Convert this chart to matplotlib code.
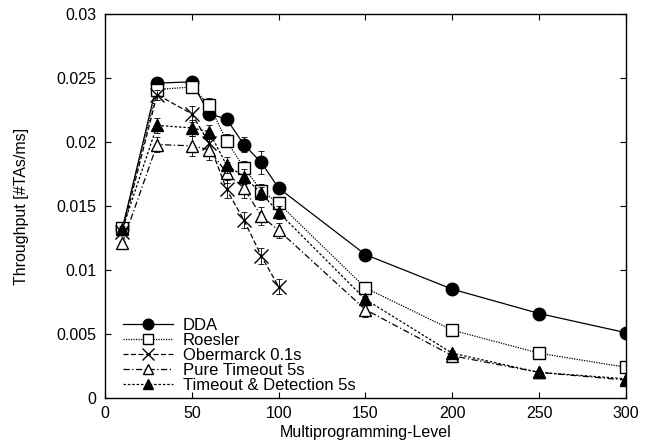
import matplotlib
matplotlib.use('Agg')
import matplotlib.pyplot as plt

plt.rcParams['font.family'] = ['Liberation Sans', 'DejaVu Sans']

mpl = [10, 30, 50, 60, 70, 80, 90, 100, 150, 200, 250, 300]
mpl_ober = [10, 30, 50, 60, 70, 80, 90, 100]

dda = [0.0132, 0.0246, 0.0247, 0.0222, 0.0218, 0.0198, 0.0184, 0.0164, 0.0112, 0.0085, 0.0066, 0.0051]
dda_err = [0.0002, 0.0003, 0.0003, 0.0004, 0.0004, 0.0006, 0.0009, 0.0003, 0.0002, 0.0001, 0.0001, 0.0001]

roesler = [0.0133, 0.0241, 0.0243, 0.0229, 0.0201, 0.0180, 0.0162, 0.0152, 0.0086, 0.0053, 0.0035, 0.0024]
roesler_err = [0.0002, 0.0004, 0.0004, 0.0005, 0.0005, 0.0005, 0.0005, 0.0004, 0.0003, 0.0002, 0.0001, 0.0001]

ober = [0.0130, 0.0237, 0.0222, 0.0199, 0.0163, 0.0139, 0.0111, 0.0087]
ober_err = [0.0002, 0.0004, 0.0006, 0.0006, 0.0007, 0.0006, 0.0006, 0.0006]

pure = [0.0121, 0.0198, 0.0197, 0.0194, 0.0176, 0.0164, 0.0142, 0.0131, 0.0069, 0.0033, 0.0020, 0.0014]
pure_err = [0.0002, 0.0006, 0.0008, 0.0008, 0.0008, 0.0008, 0.0007, 0.0006, 0.0006, 0.0002, 0.0001, 0.0001]

tdet = [0.0132, 0.0213, 0.0211, 0.0208, 0.0182, 0.0173, 0.0160, 0.0145, 0.0077, 0.0035, 0.0020, 0.0015]
tdet_err = [0.0002, 0.0006, 0.0006, 0.0005, 0.0006, 0.0006, 0.0005, 0.0005, 0.0003, 0.0002, 0.0001, 0.0001]

fig = plt.figure(figsize=(6.48, 4.43), dpi=100)
ax = fig.add_axes([0.162, 0.1016, 0.804, 0.8668])

series = [
    ('DDA', mpl, dda, dda_err, '-', 'o', 'black', 9),
    ('Roesler', mpl, roesler, roesler_err, (0, (1, 1)), 's', 'white', 9),
    ('Obermarck 0.1s', mpl_ober, ober, ober_err, (0, (4, 2)), 'x', 'black', 10),
    ('Pure Timeout 5s', mpl, pure, pure_err, (0, (5, 2, 1, 2)), '^', 'white', 9),
    ('Timeout & Detection 5s', mpl, tdet, tdet_err, (0, (2, 1.5)), '^', 'black', 9),
]

for label, xs, ys, es, ls, mk, fc, ms in series:
    ax.errorbar(xs, ys, yerr=es, fmt='none', ecolor='black', elinewidth=0.6,
                capsize=2, capthick=0.6, linestyle=ls)
    ax.plot(xs, ys, linestyle=ls, color='black', linewidth=0.9, marker=mk,
            markersize=ms, markerfacecolor=fc, markeredgecolor='black',
            markeredgewidth=1.0, label=label)

ax.set_xlim(0, 300)
ax.set_ylim(0, 0.03)
ax.set_xticks([0, 50, 100, 150, 200, 250, 300])
ax.set_yticks([0, 0.005, 0.01, 0.015, 0.02, 0.025, 0.03])
ax.set_yticklabels(['0', '0.005', '0.01', '0.015', '0.02', '0.025', '0.03'])
ax.tick_params(direction='in', top=True, right=True, labelsize=11.5, length=4, pad=6)
ax.set_xlabel('Multiprogramming-Level', fontsize=11.5, labelpad=3)
ax.set_ylabel('Throughput [#TAs/ms]', fontsize=11.5, labelpad=20)
for s in ax.spines.values():
    s.set_linewidth(1.0)

ax.legend(loc='lower left', frameon=False, fontsize=12, handlelength=3.0,
          handletextpad=0.6, labelspacing=0.0, markerscale=0.85,
          borderaxespad=0.0, borderpad=0.3, bbox_to_anchor=(0.025, 0.0))

fig.savefig('out.png', dpi=100)
